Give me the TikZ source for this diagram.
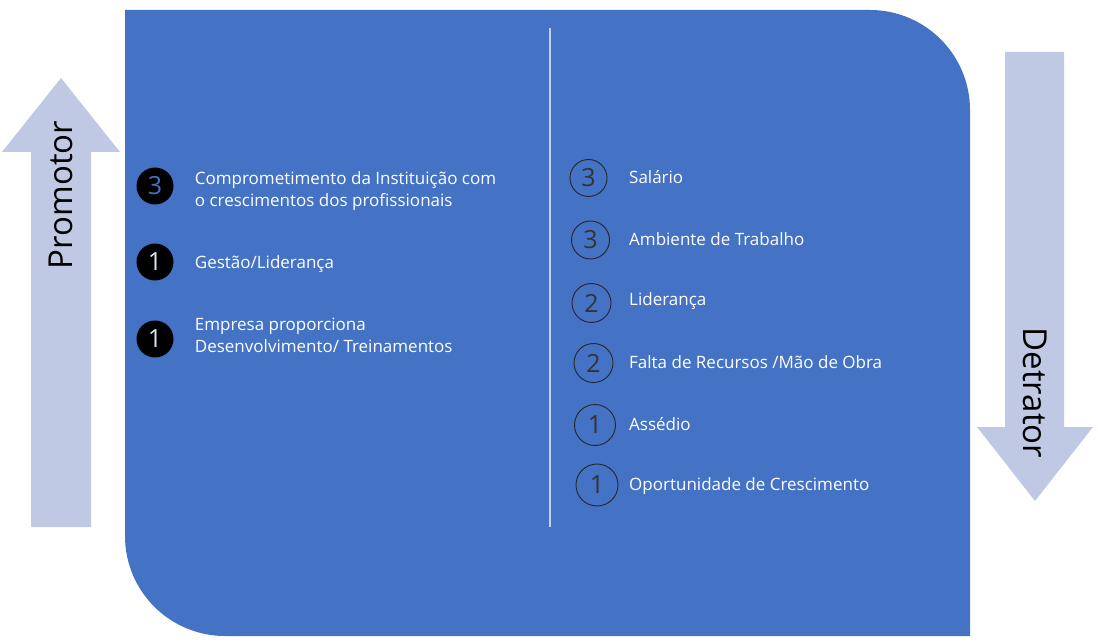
\documentclass[tikz,border=0pt]{standalone}
\usepackage{fontspec}
\setmainfont{Open Sans}
\usetikzlibrary{positioning}
\definecolor{boxblue}{HTML}{4472C4}
\definecolor{arrowgrey}{HTML}{BFC9E4}
\definecolor{numlight}{HTML}{DAE3F3}
\definecolor{linelight}{HTML}{C5D2EC}
\tikzstyle{promo} = [circle, fill=black, minimum size=37pt, inner sep=0pt, font=\fontsize{25}{25}\selectfont]
\tikzstyle{detra} = [circle, draw=black!85, line width=0.9pt, inner sep=0pt, text=black!80, font=\fontsize{25}{25}\selectfont]
\tikzstyle{item} = [anchor=west, text=white, align=left, inner sep=0pt, font=\fontsize{17}{22}\selectfont]
\tikzstyle{bigarrow} = [fill=arrowgrey]
\tikzstyle{side} = [font=\fontsize{33}{33}\selectfont]

\begin{document}
\begin{tikzpicture}[x=1pt, y=-1pt]
  \useasboundingbox (0,0) rectangle (1098,644);

  % panel and side arrows
  \fill [boxblue] (125,10) -- (870,10) .. controls (925.2,10) and (970,54.8) .. (970,110)
    -- (970,636) -- (225,636) .. controls (169.8,636) and (125,591.2) .. (125,536) -- cycle;
  \fill [bigarrow] (31,527) -- (31,152) -- (2,152) -- (61,78) -- (120,152) -- (91,152) -- (91,527) -- cycle;
  \fill [bigarrow] (1005,52) -- (1005,427) -- (977,427) -- (1035,501) -- (1093,427) -- (1064,427) -- (1064,52) -- cycle;
  \draw [linelight, line width=1.5pt] (550,28) -- (550,527);

  \node (promotor) [side, rotate=90] at (61,195) {Promotor};
  \node (detrator) [side, rotate=-90] at (1035,393) {Detrator};

  % promotores
  \node (p3) [promo, text=boxblue] at (155,186) {3};
  \node (p1a) [promo, text=numlight] at (155,262) {1};
  \node (p1b) [promo, text=numlight] at (155,339) {1};

  \node (commit) [item, right=21pt of p3, yshift=-5pt] {Comprometimento da Instituição com\\o crescimentos dos profissionais};
  \node (gestao) [item, right=21pt of p1a, yshift=-2pt] {Gestão/Liderança};
  \node (empresa) [item, right=21pt of p1b, yshift=3.5pt] {Empresa proporciona\\Desenvolvimento/ Treinamentos};

  % detratores
  \node (d1) [detra, minimum size=37pt] at (588.5,178) {3};
  \node (d2) [detra, minimum size=38pt] at (590.5,240) {3};
  \node (d3) [detra, minimum size=39pt] at (591.5,303) {2};
  \node (d4) [detra, minimum size=39pt] at (593.5,363) {2};
  \node (d5) [detra, minimum size=41pt] at (595,425) {1};
  \node (d6) [detra, minimum size=42pt] at (597,485) {1};

  \node (salario) [item] at (629,177) {Salário};
  \node (ambiente) [item] at (629,239) {Ambiente de Trabalho};
  \node (lideranca) [item] at (629,301) {Liderança};
  \node (recursos) [item] at (629,362) {Falta de Recursos /Mão de Obra};
  \node (assedio) [item] at (629,424) {Assédio};
  \node (oportunidade) [item] at (629,486) {Oportunidade de Crescimento};

\end{tikzpicture}
\end{document}
